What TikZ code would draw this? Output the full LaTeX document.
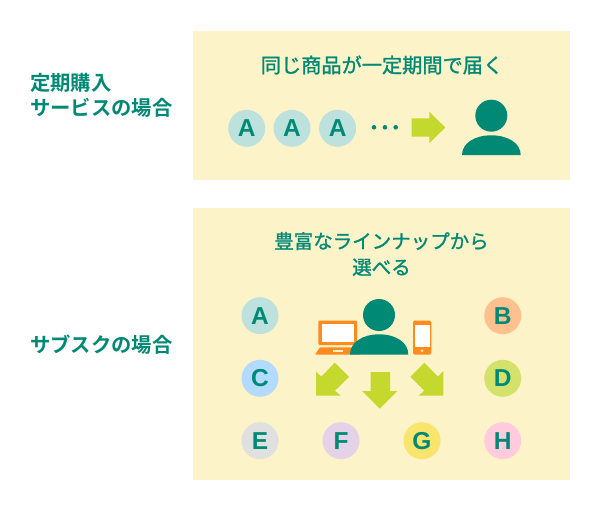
\documentclass[tikz,border=0pt]{standalone}
\usepackage{fontspec}
\setmainfont{Liberation Sans}
\newfontfamily\cjk[FakeBold=1.2]{Noto Sans CJK JP}
\newfontfamily\cjkb{Noto Sans CJK JP}[BoldFont={Noto Sans CJK JP Bold}]
\definecolor{bgy}{HTML}{FDF3C8}
\definecolor{teal1}{HTML}{008975}
\definecolor{lime1}{HTML}{C5D82D}
\definecolor{orange1}{HTML}{FF8B1F}
\definecolor{cira}{RGB}{189,226,222}
\definecolor{cirb}{RGB}{253,192,142}
\definecolor{circc}{RGB}{179,218,255}
\definecolor{cird}{RGB}{212,226,108}
\definecolor{cire}{RGB}{224,224,224}
\definecolor{cirf}{RGB}{227,210,232}
\definecolor{cirg}{RGB}{249,228,109}
\definecolor{cirh}{RGB}{255,203,221}
\tikzset{
  panel/.style={fill=bgy,draw=none},
  letter/.style={circle,draw=none,minimum size=37pt,inner sep=0pt,text=teal1,font=\fontsize{24.5}{24.5}\selectfont\bfseries},
  title/.style={text=teal1,font=\fontsize{20.2}{26}\selectfont\cjk,align=center,inner sep=0pt},
  titlesm/.style={text=teal1,font=\fontsize{19.5}{26}\selectfont\cjk,align=center,inner sep=0pt},
  side/.style={text=teal1,font=\fontsize{20.3}{25}\selectfont\cjkb\bfseries,align=left,inner sep=0pt,anchor=west},
  tealfill/.style={fill=teal1,draw=none},
  limefill/.style={fill=lime1,draw=none},
  orangefill/.style={fill=orange1,draw=none},
  whitefill/.style={fill=white,draw=none}
}
\begin{document}
\begin{tikzpicture}[x=1pt,y=-1pt]
\useasboundingbox (0,0) rectangle (600,511);
\fill[white] (0,0) rectangle (600,511);
\path[panel] (193,31) rectangle (570,180);
\path[panel] (193,208) rectangle (570,480);
% labels
\node[side] (lab1) at (30,95) {定期購入\\サービスの場合};
\node[side] (lab2) at (30,344.5) {サブスクの場合};
\node[title] (t1) at (382,65) {同じ商品が一定期間で届く};
\node[titlesm] (t2) at (381.5,254) {豊富なラインナップから\\選べる};
% top row
\node[letter,fill=cira] (a1) at (246.7,128.3) {A};
\node[letter,fill=cira] (a2) at (292,128.3) {A};
\node[letter,fill=cira] (a3) at (337.6,128.3) {A};
\fill[teal1] (374,127.3) circle (2.3) (385,127.3) circle (2.3) (395.7,127.3) circle (2.3);
\path[limefill] (411.7,118.3) -- (429.3,118.3) -- (429.3,111.7) -- (445.3,127.5) -- (429.3,143.3) -- (429.3,136.7) -- (411.7,136.7) -- cycle;
% person 1
\path[tealfill] (491.3,115.7) circle (16);
\path[tealfill] (462,155) .. controls (462,143) and (475,135.3) .. (491.3,135.3) .. controls (507.6,135.3) and (520.7,143) .. (520.7,155) -- cycle;
% laptop
\path[orangefill,rounded corners=1pt] (318.3,320.7) rectangle (357,345);
\path[whitefill] (321.7,323.7) rectangle (354,341.7);
\path[orangefill,rounded corners=0.8pt] (320,347.3) -- (360,347.3) -- (360,354.6) -- (315,354.6) -- cycle;
\fill[bgy] (333.3,350.3) rectangle (342.7,352);
% phone
\path[orangefill,rounded corners=1.5pt] (413,320.7) rectangle (431.3,354.6);
\path[whitefill] (415,325) rectangle (429.7,347.3);
\fill[bgy] (422,350.8) circle (1.4);
% person 2
\path[tealfill] (379,315) circle (16);
\path[tealfill] (350,354.6) .. controls (350,342.5) and (362.5,334.3) .. (379.2,334.3) .. controls (396,334.3) and (408.3,342.5) .. (408.3,354.6) -- cycle;
% arrows
\path[limefill] (370.7,372) -- (390,372) -- (390,391) -- (397.3,391) -- (379.7,408.7) -- (362,391) -- (370.7,391) -- cycle;
\path[limefill] (316,395.7) -- (316,371.7) -- (321.3,376.7) -- (334.7,362.7) -- (349,377) -- (335,390.7) -- (340.7,395.7) -- cycle;
\path[limefill] (443.3,395.7) -- (443.3,371) -- (438,376.7) -- (424.3,362.7) -- (410.3,376.7) -- (424.3,390.7) -- (418.7,395.7) -- cycle;
% letters
\node[letter,fill=cira] (ca) at (260,315.7) {A};
\node[letter,fill=cirb] (cb) at (502.7,315.7) {B};
\node[letter,fill=circc] (cc) at (260,378.3) {C};
\node[letter,fill=cird] (cd) at (502.7,378.3) {D};
\node[letter,fill=cire] (ce) at (260,440.7) {E};
\node[letter,fill=cirf] (cf) at (341,440.7) {F};
\node[letter,fill=cirg] (cg) at (422,440.7) {G};
\node[letter,fill=cirh] (ch) at (502.7,440.7) {H};
\end{tikzpicture}
\end{document}
